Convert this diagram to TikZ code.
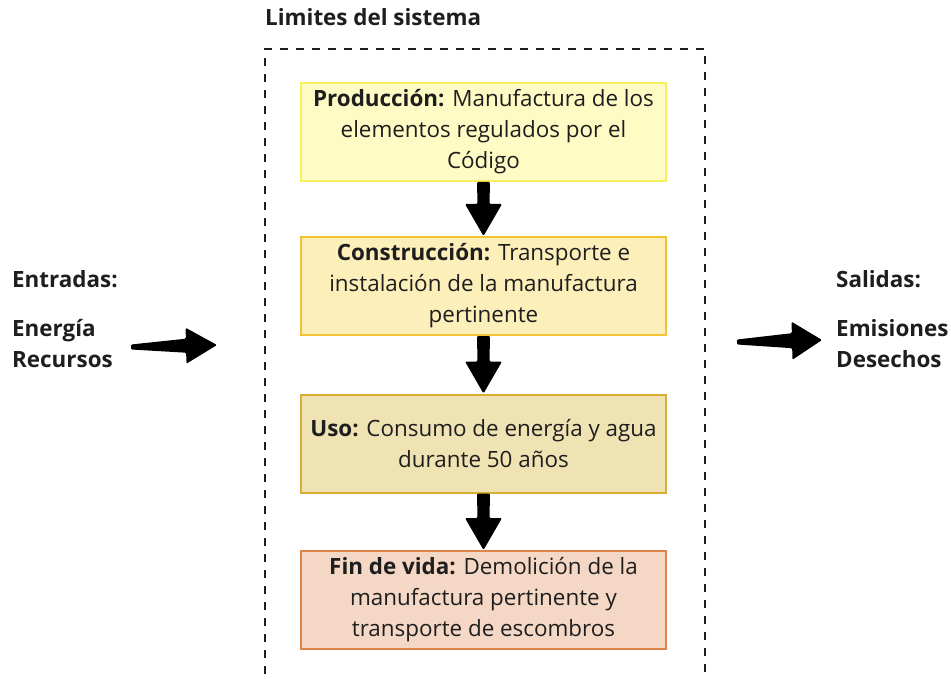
\documentclass[tikz,border=0pt]{standalone}
\usepackage{fontspec}
\setmainfont{Open Sans}
\usetikzlibrary{calc}
\definecolor{f1}{HTML}{FFFBC4}\definecolor{d1}{HTML}{F7EF5E}
\definecolor{f2}{HTML}{FCEFBA}\definecolor{d2}{HTML}{F3C232}
\definecolor{f3}{HTML}{F0E3B3}\definecolor{d3}{HTML}{D6AE35}
\definecolor{f4}{HTML}{F5D7C6}\definecolor{d4}{HTML}{E0834A}
\definecolor{ink}{HTML}{1E1E1E}
\newcommand{\fatarr}[6]{%
  \path ($(#2)!#6!(#1)$) coordinate (fah);
  \fill[black,rounded corners=1.2pt] ($(#1)!#3!90:(#2)$) -- ($(fah)!#4!90:(#2)$) -- ($(fah)!#5!90:(#2)$) -- (#2) -- ($(fah)!#5!-90:(#2)$) -- ($(fah)!#4!-90:(#2)$) -- ($(#1)!#3!-90:(#2)$) -- cycle;}
\tikzset{
  stagebox/.style={draw, line width=2pt, minimum width=365pt, minimum height=98pt, inner sep=0pt, align=center, text=ink, font=\fontsize{22.4}{31}\selectfont},
  sidelabel/.style={anchor=west, inner sep=0pt, align=left, text=ink, font=\bfseries\fontsize{22.4}{31}\selectfont},
}
\begin{document}
\begin{tikzpicture}[x=1pt,y=-1pt]
\useasboundingbox (0,0) rectangle (951,679);
% system boundary
\draw[ink, line width=2pt, dash pattern=on 8pt off 8pt] (265,690) -- (265,49) -- (705,49) -- (705,690);
\node[sidelabel] (title) at (265,17) {Limites del sistema};
% stages
\node[stagebox, fill=f1, draw=d1] (p1) at (483.5,132) {\textbf{Producción:} Manufactura de los\\elementos regulados por el\\Código};
\node[stagebox, fill=f2, draw=d2] (p2) at (483.5,286) {\textbf{Construcción:} Transporte e\\instalación de la manufactura\\pertinente};
\node[stagebox, fill=f3, draw=d3] (p3) at (483.5,443.5) {\textbf{Uso:} Consumo de energía y agua\\durante 50 años};
\node[stagebox, fill=f4, draw=d4] (p4) at (483.5,600) {\textbf{Fin de vida:} Demolición de la\\manufactura pertinente y\\transporte de escombros};
% side labels
\node[sidelabel] (inlab) at (12,279) {Entradas:};
\node[sidelabel] (inlist) at (12,343.5) {Energía\\Recursos};
\node[sidelabel] (outlab) at (836,279) {Salidas:};
\node[sidelabel] (outlist) at (836,343.5) {Emisiones\\Desechos};
% arrows
\coordinate (ina) at (131,347);
\coordinate (inb) at (217,345);
\coordinate (outa) at (737,342);
\coordinate (outb) at (822,340);
\fatarr{ina}{inb}{2.5pt}{7pt}{18pt}{31pt}
\fatarr{outa}{outb}{2.5pt}{7.5pt}{19pt}{30pt}
\fatarr{p1.south}{p2.north}{6.5pt}{6pt}{18.5pt}{32pt}
\fatarr{p2.south}{p3.north}{6.5pt}{6pt}{18.5pt}{32pt}
\fatarr{p3.south}{p4.north}{6.5pt}{6pt}{18.5pt}{32pt}
\end{tikzpicture}
\end{document}
